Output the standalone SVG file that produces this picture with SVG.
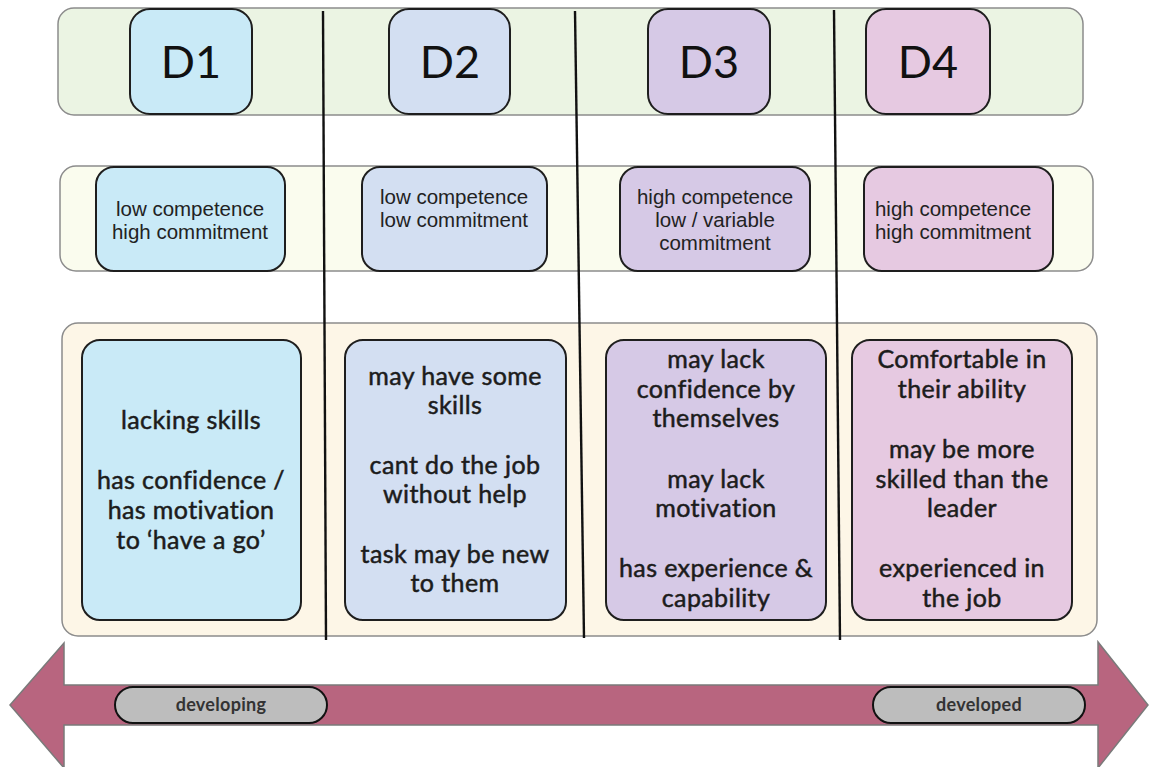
<svg xmlns="http://www.w3.org/2000/svg" width="1149" height="767" viewBox="0 0 1149 767">
<style>
.band{stroke:#8c8c8c;stroke-width:1.5}
.box{stroke:#1e1e1e;stroke-width:2}
.c1{fill:#c9eaf7}.c2{fill:#d3dff2}.c3{fill:#d6c9e6}.c4{fill:#e6c9e1}
.hd{font-family:Lato,"Open Sans",sans-serif;font-size:45px;fill:#111;text-anchor:middle}
.mid{font-family:"Liberation Sans",Arial,sans-serif;font-size:20.5px;fill:#222;text-anchor:middle}
.low{font-family:Lato,"Open Sans",sans-serif;font-size:25px;letter-spacing:0.4px;fill:#1c1c1c;stroke:#1c1c1c;stroke-width:0.5;text-anchor:middle}
.pill{fill:#bdbdbd;stroke:#111;stroke-width:2}
.pt{font-family:Lato,"Open Sans",sans-serif;font-size:18px;font-weight:bold;letter-spacing:0.3px;fill:#333;text-anchor:middle}
.div{stroke:#111;stroke-width:2.4}
</style>
<g id="bands">
<rect class="band" x="58" y="8" width="1025" height="107" rx="16" fill="#ebf4e3"/>
<rect class="band" x="60" y="166" width="1033" height="105" rx="16" fill="#fafcee"/>
<rect class="band" x="62" y="323" width="1035" height="313" rx="16" fill="#fdf6e7"/>
</g>
<g id="D1">
<rect class="box c1" x="130" y="9" width="122" height="105" rx="20"/>
<text class="hd" x="191" y="78">D1</text>
</g>
<g id="D2">
<rect class="box c2" x="389" y="9" width="121" height="105" rx="20"/>
<text class="hd" x="450" y="78">D2</text>
</g>
<g id="D3">
<rect class="box c3" x="648" y="9" width="122" height="105" rx="20"/>
<text class="hd" x="709" y="78">D3</text>
</g>
<g id="D4">
<rect class="box c4" x="866" y="9" width="124" height="105" rx="20"/>
<text class="hd" x="928" y="78">D4</text>
</g>
<g id="D1-level">
<rect class="box c1" x="96" y="167" width="189" height="104" rx="18"/>
<text class="mid" x="190" y="216">low competence</text>
<text class="mid" x="190" y="239">high commitment</text>
</g>
<g id="D2-level">
<rect class="box c2" x="362" y="167" width="185" height="104" rx="18"/>
<text class="mid" x="454" y="204">low competence</text>
<text class="mid" x="454" y="227">low commitment</text>
</g>
<g id="D3-level">
<rect class="box c3" x="620" y="167" width="190" height="104" rx="18"/>
<text class="mid" x="715" y="204">high competence</text>
<text class="mid" x="715" y="227">low / variable</text>
<text class="mid" x="715" y="250">commitment</text>
</g>
<g id="D4-level">
<rect class="box c4" x="864" y="167" width="189" height="104" rx="18"/>
<text class="mid" x="953" y="216">high competence</text>
<text class="mid" x="953" y="239">high commitment</text>
</g>
<g id="D1-desc">
<rect class="box c1" x="82" y="340" width="219" height="280" rx="18"/>
<text class="low" x="191" y="429">lacking skills</text>
<text class="low" x="191" y="489">has confidence /</text>
<text class="low" x="191" y="519">has motivation</text>
<text class="low" x="191" y="549">to ‘have a go’</text>
</g>
<g id="D2-desc">
<rect class="box c2" x="345" y="340" width="221" height="280" rx="18"/>
<text class="low" x="455" y="385">may have some</text>
<text class="low" x="455" y="414">skills</text>
<text class="low" x="455" y="474">cant do the job</text>
<text class="low" x="455" y="503">without help</text>
<text class="low" x="455" y="563">task may be new</text>
<text class="low" x="455" y="592">to them</text>
</g>
<g id="D3-desc">
<rect class="box c3" x="606" y="340" width="220" height="280" rx="18"/>
<text class="low" x="716" y="368">may lack</text>
<text class="low" x="716" y="398">confidence by</text>
<text class="low" x="716" y="427">themselves</text>
<text class="low" x="716" y="488">may lack</text>
<text class="low" x="716" y="517">motivation</text>
<text class="low" x="716" y="577">has experience &amp;</text>
<text class="low" x="716" y="607">capability</text>
</g>
<g id="D4-desc">
<rect class="box c4" x="852" y="340" width="220" height="280" rx="18"/>
<text class="low" x="962" y="368">Comfortable in</text>
<text class="low" x="962" y="398">their ability</text>
<text class="low" x="962" y="458">may be more</text>
<text class="low" x="962" y="488">skilled than the</text>
<text class="low" x="962" y="517">leader</text>
<text class="low" x="962" y="577">experienced in</text>
<text class="low" x="962" y="607">the job</text>
</g>
<g id="connectors">
<line class="div" x1="323" y1="11" x2="326" y2="640"/>
<line class="div" x1="575" y1="11" x2="584" y2="638"/>
<line class="div" x1="834" y1="10" x2="840" y2="640"/>
</g>
<g id="arrow">
<polygon points="10,705 64,643 64,685 1098,685 1098,642 1148,705 1098,768 1098,725 64,725 64,768" fill="#b8657f" stroke="#7a7a7a" stroke-width="1.5"/>
</g>
<g id="developing">
<rect class="pill" x="115" y="687" width="212" height="36" rx="18"/>
<text class="pt" x="221" y="711">developing</text>
</g>
<g id="developed">
<rect class="pill" x="873" y="687" width="212" height="36" rx="18"/>
<text class="pt" x="979" y="711">developed</text>
</g>
</svg>
